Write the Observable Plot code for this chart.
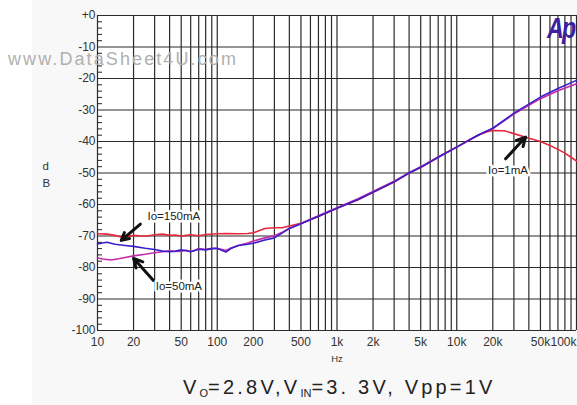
<!DOCTYPE html>
<html><head><meta charset="utf-8">
<script src="https://cdn.jsdelivr.net/npm/d3@7"></script>
<script src="https://cdn.jsdelivr.net/npm/@observablehq/plot@0.6"></script>
<style>
html,body{margin:0;padding:0}
body{width:577px;height:405px;overflow:hidden;position:relative;background:linear-gradient(to right,#fff 0,#fff 32px,#f8f8f8 32px);font-family:"Liberation Sans",Arial,sans-serif}
#chart{position:absolute;left:0;top:0}
#wm{position:absolute;left:8px;top:50px;font-size:18px;line-height:18px;letter-spacing:2.1px;color:#b0b0b0;white-space:nowrap;pointer-events:none}
#logo{position:absolute;right:2px;top:12px;font-size:29px;line-height:32px;font-weight:bold;font-style:italic;color:#3d1f9f;transform:scaleX(0.8);transform-origin:right top;letter-spacing:-2px}
#cap{position:absolute;left:183px;top:377px;font-size:20px;line-height:20px;letter-spacing:3.2px;color:#222;white-space:nowrap}
#cap sub{font-size:11px;letter-spacing:0;vertical-align:-3px;line-height:0}
</style>
</head><body>
<div id="chart"></div>
<div id="wm">www.DataSheet4U.com</div>
<div id="logo">Ap</div>
<div id="cap">V<sub>O</sub>=2.8V,V<sub>IN</sub>=3. 3V, Vpp=1V</div>
<script>
// ---- data ----
const seriesNames = ["Io=1mA", "Io=50mA", "Io=150mA"];
const f1mA  = [10,12,14,16,18,20,23,26,30,35,40,45,50,55,60,70,80,100,120,150,180,200,220,250,300,350,400,500,700,1000,1500,2000,3000,4000,5000,7000,10000,13000,16000,18000,20000,25000,30000,40000,50000,60000,70000,80000,90000,100000];
const db1mA = [-69.3,-69.4,-69.8,-70.4,-70.2,-69.8,-70.0,-70.0,-69.6,-69.4,-69.8,-69.7,-70.1,-69.8,-69.6,-69.9,-69.5,-69.3,-69.2,-69.3,-69.2,-69.0,-68.4,-67.6,-67.4,-67.4,-66.8,-66.0,-63.8,-61.2,-58.5,-56.1,-52.9,-50.0,-48.3,-45.0,-41.8,-39.3,-37.6,-36.9,-36.5,-36.6,-37.5,-39.0,-40.0,-41.3,-42.5,-43.7,-45.0,-46.2];
const f50mA  = [10,11,13,15,17,20,25,30,35,40,45,50,55,60,65,70,80,90,100,110,118,130,150,180,200,250,300,350,400,500,700,1000,1500,2000,3000,4000,5000,7000,10000,15000,20000,30000,50000,70000,100000];
const db50mA = [-76.9,-77.3,-77.6,-77.2,-76.8,-76.3,-75.8,-75.3,-75.0,-74.7,-74.9,-74.8,-74.5,-74.9,-74.5,-74.0,-74.3,-73.9,-74.0,-74.3,-74.6,-73.8,-73.0,-72.2,-71.6,-70.6,-69.9,-68.8,-67.6,-66.0,-63.6,-61.0,-58.2,-55.9,-52.6,-49.9,-48.0,-44.9,-41.7,-38.0,-35.9,-31.3,-26.4,-23.9,-21.7];
const f150mA  = [10,11,12,14,17,20,25,30,35,40,45,50,55,60,65,70,80,90,100,110,118,130,150,180,200,250,300,350,400,450,500,700,1000,1500,2000,3000,4000,5000,7000,10000,15000,20000,30000,50000,70000,100000];
const db150mA = [-72.5,-72.2,-72.0,-72.6,-73.0,-73.3,-73.9,-74.3,-74.8,-75.0,-74.8,-74.4,-74.7,-75.0,-74.6,-74.2,-74.4,-74.0,-73.9,-74.6,-75.1,-74.0,-73.0,-72.6,-72.3,-71.3,-70.6,-69.0,-67.6,-66.8,-66.1,-63.7,-61.2,-58.4,-56.1,-52.8,-50.0,-48.2,-45.0,-41.8,-38.0,-35.8,-31.0,-25.9,-23.2,-20.6];

const xTicks = [10,20,50,100,200,500,1000,2000,5000,10000,20000,50000,100000];
const xTickLabels = ["10","20","50","100","200","500","1k","2k","5k","10k","20k","50k","100k"];
const yTicks = [0,-10,-20,-30,-40,-50,-60,-70,-80,-90,-100];
const yTickLabels = ["+0","-10","-20","-30","-40","-50","-60","-70","-80","-90","-100"];

// annotations (data units)
const noteText = ["Io=150mA","Io=50mA","Io=1mA"];
const noteF  = [43.4, 47.8, 26800];
const noteDb = [-63.8, -86.0, -49.0];
const arrowFromF  = [22.8, 29.3, 25600];
const arrowFromDb = [-66.2, -84.1, -45.5];
const arrowToF    = [15.8, 20.0, 37600];
const arrowToDb   = [-71.4, -77.1, -38.6];

// ---- build ----
const xDomain = [10, 100000];
const yDomain = [-100, 0];
const xGrid = [];
for (let d = 10; d < 100000; d *= 10) for (let m = 1; m <= 9; m++) xGrid.push(d * m);
xGrid.push(100000);
const yMinor = d3.range(-100, 0.1, 2).filter(v => v % 10 !== 0);

const rows = [];
[[f1mA, db1mA, seriesNames[0]], [f50mA, db50mA, seriesNames[1]], [f150mA, db150mA, seriesNames[2]]]
  .forEach(([fs, ds, s]) => fs.forEach((f, i) => rows.push({f, db: ds[i], s})));
const notes = noteText.map((t, i) => ({t, f: noteF[i], db: noteDb[i]}));
const arrows = noteText.map((t, i) => ({f1: arrowFromF[i], d1: arrowFromDb[i], f2: arrowToF[i], d2: arrowToDb[i]}));
const xFmt = d => xTickLabels[xTicks.indexOf(d)];
const yFmt = d => yTickLabels[yTicks.indexOf(d)];

const chart = Plot.plot({
  width: 577, height: 365,
  marginTop: 15, marginBottom: 35, marginLeft: 97, marginRight: 1,
  style: {background: "transparent", fontFamily: "'Liberation Sans', Arial, sans-serif", color: "#222"},
  x: {type: "log", domain: xDomain, axis: null},
  y: {domain: yDomain, axis: null},
  color: {domain: seriesNames, range: ["#e8283c", "#c42aa8", "#3a20c8"]},
  marks: [
    Plot.frame({fill: "white"}),
    Plot.ruleX(xGrid, {x: d => d, stroke: "#2b2b2b", strokeWidth: 1.2}),
    Plot.ruleY(yTicks, {y: d => d, stroke: "#2b2b2b", strokeWidth: 1.2}),
    Plot.axisY(yMinor, {tickSize: 5, insetLeft: 5, tickFormat: () => "", stroke: "#222", label: null}),
    Plot.text(yTicks, {y: d => d, frameAnchor: "left", text: yFmt, textAnchor: "end", dx: -2, fontSize: 12, fill: "#333", ariaLabel: "y tick label"}),
    Plot.text(xTicks.slice(0, -1), {x: d => d, frameAnchor: "bottom", text: xFmt, lineAnchor: "top", dy: 7, fontSize: 12, fill: "#333", ariaLabel: "x tick label"}),
    Plot.text(xTicks.slice(-1), {x: d => d, frameAnchor: "bottom", text: xFmt, textAnchor: "end", lineAnchor: "top", dy: 7, fontSize: 12, fill: "#333", ariaLabel: "x tick label"}),
    Plot.line(rows, {x: "f", y: "db", z: "s", stroke: "s", strokeWidth: 1.6, curve: "linear"}),
    Plot.arrow(arrows, {x1: "f1", y1: "d1", x2: "f2", y2: "d2", stroke: "#111", strokeWidth: 3, headLength: 9, headAngle: 55, inset: 0}),
    Plot.text(notes, {x: "f", y: "db", text: "t", fontSize: 11.5, fill: "#222", stroke: "white", strokeWidth: 5}),
    Plot.text(["d\nB"], {frameAnchor: "left", text: d => d, dx: -55, fontSize: 11.5, lineHeight: 1.45, fill: "#333"}),
    Plot.text(["Hz"], {frameAnchor: "bottom", text: d => d, dy: 31, fontSize: 9.5, fill: "#333", ariaLabel: "x tick label"})
  ]
});
d3.select(chart).selectAll('g[aria-label$="tick label"]').attr("letter-spacing", "-0.8");
document.getElementById("chart").appendChild(chart);
</script>
</body></html>
